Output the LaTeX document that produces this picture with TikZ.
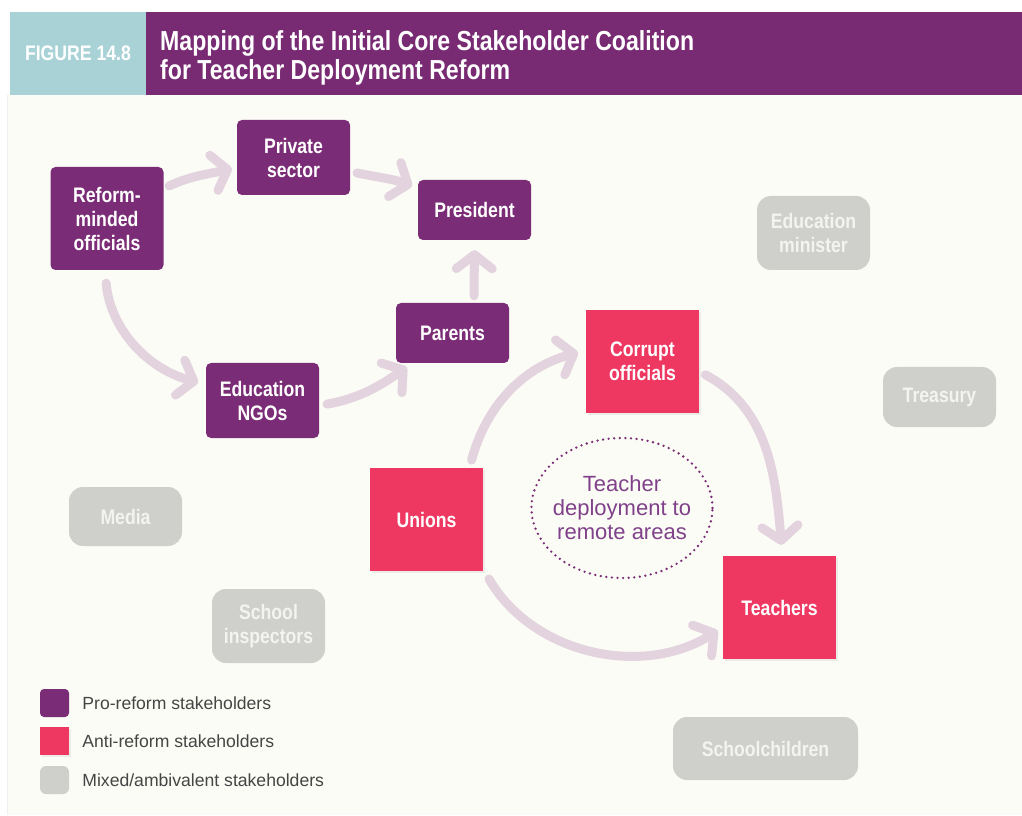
\documentclass[tikz,border=0pt]{standalone}
\usepackage{fontspec}
\setmainfont{Liberation Sans}
\newfontfamily\condfont[FakeStretch=0.84]{Liberation Sans}
\usetikzlibrary{arrows.meta,shapes.geometric,shadows,positioning}

\definecolor{proreform}{HTML}{7B2C76}
\definecolor{antireform}{HTML}{EF3861}
\definecolor{mixedgray}{HTML}{CFD0CC}
\definecolor{mixedtext}{HTML}{F3F3F0}
\definecolor{flowcol}{HTML}{E3D3DE}
\definecolor{paper}{HTML}{FBFCF5}
\definecolor{headteal}{HTML}{A9D2D7}
\definecolor{headpurple}{HTML}{782A73}
\definecolor{issuetext}{HTML}{80418A}
\definecolor{keygray}{HTML}{454545}

\newcommand*{\pagew}{1022}
\newcommand*{\pageh}{815}
\newcommand*{\headbot}{720}
\newcommand*{\headtop}{803}

\begin{document}
\begin{tikzpicture}
[
	x=1pt,y=1pt,
	boxtext/.style={text=white,font=\condfont\bfseries\fontsize{21}{24}\selectfont,align=center,inner sep=0pt},
	probox/.style={boxtext,rectangle,rounded corners=5pt,fill=proreform,minimum width=113pt},
	antibox/.style={boxtext,rectangle,fill=antireform,minimum width=113pt,minimum height=103pt,
		drop shadow={shadow xshift=2pt,shadow yshift=-2pt,opacity=0.12}},
	mixedbox/.style={boxtext,text=mixedtext,rectangle,rounded corners=14pt,fill=mixedgray,minimum width=113pt},
	issue/.style={ellipse,draw=proreform,line width=2.6pt,line cap=round,dash pattern=on 0pt off 5.6pt,
		minimum width=181pt,minimum height=140pt,inner xsep=-8pt,inner ysep=0pt,align=center,text=issuetext,
		font=\fontsize{22}{24}\selectfont},
	flow/.style={draw=flowcol,line width=9pt,line cap=round,
		-{Straight Barb[length=14pt,width=36pt,round]}},
	keytext/.style={text=keygray,font=\fontsize{17.6}{20}\selectfont,inner sep=0pt,anchor=west}
]

	\useasboundingbox (0,0) rectangle (\pagew,\pageh);

	% background and header
	\fill[white] (0,0) rectangle (\pagew,\pageh);
	\fill[paper] (8,0) rectangle (\pagew,\headbot);
	\fill[black!6] (7,0) rectangle (8,\headbot);
	\fill[headteal] (10,\headbot) rectangle (146,\headtop);
	\fill[headpurple] (146,\headbot) rectangle (\pagew,\headtop);
	\node[font=\condfont\bfseries\fontsize{21}{24}\selectfont,text=white] (fignum) at (78,762) {FIGURE 14.8};
	\node[font=\condfont\bfseries\fontsize{27.5}{29}\selectfont,text=white,align=left,anchor=north west,inner sep=0pt]
		(title) at (160,785) {Mapping of the Initial Core Stakeholder Coalition\\for Teacher Deployment Reform};

	% pro-reform stakeholders
	\node[probox,minimum height=103pt] (reform) at (107,596.5) {Reform-\\minded\\officials};
	\node[probox,minimum height=75pt] (private) at (293.5,657.5) {Private\\sector};
	\node[probox,minimum height=60pt] (president) at (474.5,605) {President};
	\node[probox,minimum height=60pt] (parents) at (452.5,482) {Parents};
	\node[probox,minimum height=75pt] (ngos) at (262.5,414.5) {Education\\NGOs};

	% anti-reform stakeholders
	\node[antibox] (corrupt) at (642.5,453.5) {Corrupt\\officials};
	\node[antibox] (unions) at (426.5,295.5) {Unions};
	\node[antibox] (teachers) at (779.5,207.5) {Teachers};

	% mixed stakeholders
	\node[mixedbox,minimum height=74pt] (edminister) at (813.5,582) {Education\\minister};
	\node[mixedbox,minimum height=60pt] (treasury) at (939.5,418) {Treasury};
	\node[mixedbox,minimum height=59pt] (media) at (125.5,298.5) {Media};
	\node[mixedbox,minimum height=74pt] (inspectors) at (268.5,189) {School\\inspectors};
	\node[mixedbox,minimum width=185pt,minimum height=63pt] (children) at (765.5,66.5) {Schoolchildren};

	% the issue
	\node[issue] (issue) at (622,307) {Teacher\\deployment to\\remote areas};

	% coalition links
	\draw[flow,shorten <=6pt,shorten >=5pt] ([yshift=30pt]reform.east) to[out=25,in=193] ([yshift=-10pt]private.west);
	\draw[flow,shorten <=7pt,shorten >=6pt] ([yshift=-14pt]private.east) to[out=-12,in=160] ([yshift=22pt]president.west);
	\draw[flow,shorten <=13pt,shorten >=8pt] ([xshift=-2pt]reform.south) to[out=-85,in=165] ([yshift=16pt]ngos.west);
	\draw[flow,shorten <=8pt,shorten >=7pt] ([yshift=-5pt]ngos.east) to[out=10,in=-145] ([xshift=-40pt]parents.south);
	\draw[flow,shorten <=7pt,shorten >=10pt] ([xshift=21.5pt]parents.north) -- (president.south);

	% opposition links
	\draw[flow,shorten <=8pt,shorten >=8pt] ([xshift=43pt]unions.north) to[out=75,in=195] ([yshift=11pt]corrupt.west);
	\draw[flow,shorten <=7pt,shorten >=11pt] ([yshift=-10pt]corrupt.east) to[out=-28,in=95] ([xshift=3pt]teachers.north);
	\draw[flow,shorten <=9pt,shorten >=6pt] ([xshift=58pt]unions.south) to[out=-60,in=-148] ([yshift=-20pt]teachers.west);

	% key
	\node[probox,minimum width=29pt,minimum height=28pt,rounded corners=4pt] (keypro) at (54.5,112) {};
	\node[antibox,minimum width=29pt,minimum height=28pt] (keyanti) at (54.5,74) {};
	\node[mixedbox,minimum width=29pt,minimum height=28pt,rounded corners=6pt] (keymixed) at (54.5,35) {};
	\node[keytext,right=13pt of keypro] (keyprotext) {Pro-reform stakeholders};
	\node[keytext,right=13pt of keyanti] (keyantitext) {Anti-reform stakeholders};
	\node[keytext,right=13pt of keymixed] (keymixedtext) {Mixed/ambivalent stakeholders};

\end{tikzpicture}
\end{document}
